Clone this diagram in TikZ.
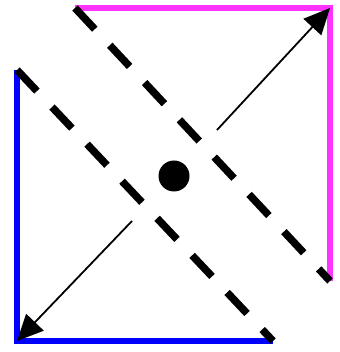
\documentclass[tikz,border=0pt]{standalone}
\usetikzlibrary{arrows.meta}
\definecolor{pinkline}{RGB}{255,51,255}
\definecolor{blueline}{RGB}{0,0,255}
\begin{document}
\begin{tikzpicture}[x=1pt,y=1pt,
  frameline/.style={line width=6pt},
  dashline/.style={line width=7.5pt, dash pattern=on 29pt off 22pt},
  arrline/.style={line width=1.8pt, -{Triangle[length=26pt,width=24pt]}}]
\useasboundingbox (0,0) rectangle (339,352);
\coordinate (pA) at (75,344);
\coordinate (pC) at (330,344);
\coordinate (pB) at (330,71);
\coordinate (bA) at (17,282);
\coordinate (bC) at (17,11);
\coordinate (bB) at (273,11);
\coordinate (aS1) at (217,222);
\coordinate (aS2) at (132,131);
\draw[frameline, pinkline] (pA) -- (pC) -- (pB);
\draw[frameline, blueline] (bA) -- (bC) -- (bB);
\draw[dashline] (pA) -- (pB);
\draw[dashline] (bA) -- (bB);
\draw[arrline] (aS1) -- (pC);
\draw[arrline] (aS2) -- (bC);
\node[circle, fill=black, minimum size=31pt, inner sep=0pt] (dot) at (174,176) {};
\end{tikzpicture}
\end{document}
